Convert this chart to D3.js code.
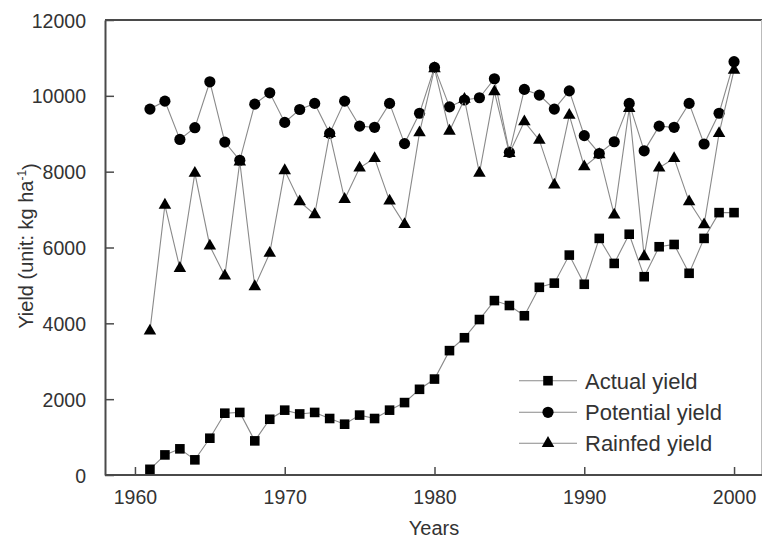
<!DOCTYPE html>
<html>
<head>
<meta charset="utf-8">
<script src="https://cdn.jsdelivr.net/npm/d3@7"></script>
<style>
  body { margin: 0; background: #fff; }
  svg { display: block; font-family: "Liberation Sans", Arial, sans-serif; }
  .tick text { fill: #333; }
</style>
</head>
<body>
<div id="chart"></div>
<script>
var years = d3.range(1961, 2001);

var actualYield = [150, 530, 690, 400, 970, 1630, 1650, 900, 1470, 1710,
                   1610, 1650, 1490, 1340, 1580, 1490, 1710, 1910, 2260, 2530,
                   3280, 3620, 4100, 4600, 4470, 4200, 4950, 5060, 5800, 5030,
                   6240, 5580, 6350, 5230, 6020, 6080, 5320, 6240, 6920, 6920];

var potentialYield = [9650, 9860, 8850, 9160, 10370, 8780, 8300, 9780, 10080, 9300,
                      9640, 9800, 9010, 9860, 9200, 9170, 9800, 8740, 9540, 10750,
                      9710, 9890, 9950, 10450, 8510, 10170, 10020, 9650, 10130, 8950,
                      8480, 8790, 9800, 8550, 9200, 9170, 9800, 8730, 9540, 10900];

var rainfedYield = [3800, 7120, 5450, 7960, 6040, 5250, 8260, 4970, 5850, 8030,
                    7210, 6870, 9010, 7270, 8100, 8350, 7230, 6610, 9030, 10720,
                    9070, 9910, 7960, 10110, 8480, 9320, 8830, 7650, 9490, 8130,
                    8450, 6860, 9670, 5760, 8100, 8350, 7210, 6600, 9010, 10680];

var seriesNames = ["Actual yield", "Potential yield", "Rainfed yield"];
var xTicks = [1960, 1970, 1980, 1990, 2000];
var yTicks = [0, 2000, 4000, 6000, 8000, 10000, 12000];

var series = [
  {name: seriesNames[0], values: actualYield, shape: d3.symbolSquare, size: 92},
  {name: seriesNames[1], values: potentialYield, shape: d3.symbolCircle, size: 98},
  {name: seriesNames[2], values: rainfedYield, shape: d3.symbolTriangle, size: 68}
];

var width = 762, height = 542;

var svg = d3.select("#chart").append("svg")
    .attr("width", width)
    .attr("height", height);

var x = d3.scaleLinear().domain([1958, 2002]).range([105, 764]);
var y = d3.scaleLinear().domain([0, 12000]).range([475, 20]);

var axisColor = "#4a4a4a";

// frame: top and right edges (chart is cropped at the right)
svg.append("line")
    .attr("x1", 105).attr("x2", 762)
    .attr("y1", 20).attr("y2", 20)
    .attr("stroke", axisColor).attr("stroke-width", 2);
svg.append("line")
    .attr("x1", 761.5).attr("x2", 761.5)
    .attr("y1", 20).attr("y2", 475)
    .attr("stroke", "#bbb").attr("stroke-width", 1);

var xAxis = d3.axisBottom(x).tickValues(xTicks).tickSizeInner(-8).tickSizeOuter(0).tickPadding(15).tickFormat(d3.format("d"));
var yAxis = d3.axisLeft(y).tickValues(yTicks).tickSizeInner(-9).tickSizeOuter(0).tickPadding(19).tickFormat(d3.format("d"));

var gx = svg.append("g")
    .attr("transform", "translate(0,475)")
    .call(xAxis);
gx.select(".domain").attr("d", "M105,0H762");

var gy = svg.append("g")
    .attr("transform", "translate(105,0)")
    .call(yAxis);

[gx, gy].forEach(function(g) {
  g.select(".domain").attr("stroke", axisColor).attr("stroke-width", 2);
  g.selectAll(".tick line").attr("stroke", axisColor).attr("stroke-width", 1.5);
  g.selectAll(".tick text").style("font-size", "19.5px");
});
gy.selectAll(".tick text").attr("dy", "0.36em");

// axis titles
svg.append("text")
    .attr("x", 434).attr("y", 535)
    .attr("text-anchor", "middle")
    .style("font-size", "20px")
    .attr("fill", "#333")
    .text("Years");

var yTitle = svg.append("text")
    .attr("transform", "translate(33,246) rotate(-90)")
    .attr("text-anchor", "middle")
    .style("font-size", "20px")
    .attr("fill", "#333");
yTitle.append("tspan").text("Yield (unit: kg ha");
yTitle.append("tspan").attr("dy", "-0.55em").style("font-size", "12px").text("-1");
yTitle.append("tspan").attr("dy", "0.55em").text(")");

var line = d3.line()
    .x(function(d, i) { return x(years[i]); })
    .y(function(d) { return y(d); });

var sym = svg.selectAll(".series")
  .data(series)
  .enter().append("g")
    .attr("class", "series");

sym.append("path")
    .attr("d", function(d) { return line(d.values); })
    .attr("fill", "none")
    .attr("stroke", "#8a8a8a")
    .attr("stroke-width", 1.1);

sym.each(function(s) {
  d3.select(this).selectAll(".pt")
    .data(s.values)
    .enter().append("path")
      .attr("class", "pt")
      .attr("transform", function(d, i) { return "translate(" + x(years[i]) + "," + y(d) + ")"; })
      .attr("d", d3.symbol().type(s.shape).size(s.size))
      .attr("fill", "#000");
});

// legend
var legend = svg.selectAll(".legend")
  .data(series)
  .enter().append("g")
    .attr("class", "legend")
    .attr("transform", function(d, i) { return "translate(0," + [380.7, 412.3, 443.3][i] + ")"; });

legend.append("line")
    .attr("x1", 519).attr("x2", 577)
    .attr("stroke", "#8a8a8a").attr("stroke-width", 1.1);
legend.append("path")
    .attr("transform", "translate(548,0)")
    .attr("d", function(d) { return d3.symbol().type(d.shape).size(d.size)(); })
    .attr("fill", "#000");
legend.append("text")
    .attr("x", 585).attr("dy", "0.36em")
    .style("font-size", "22px")
    .attr("fill", "#333")
    .text(function(d) { return d.name; });
</script>
</body>
</html>
